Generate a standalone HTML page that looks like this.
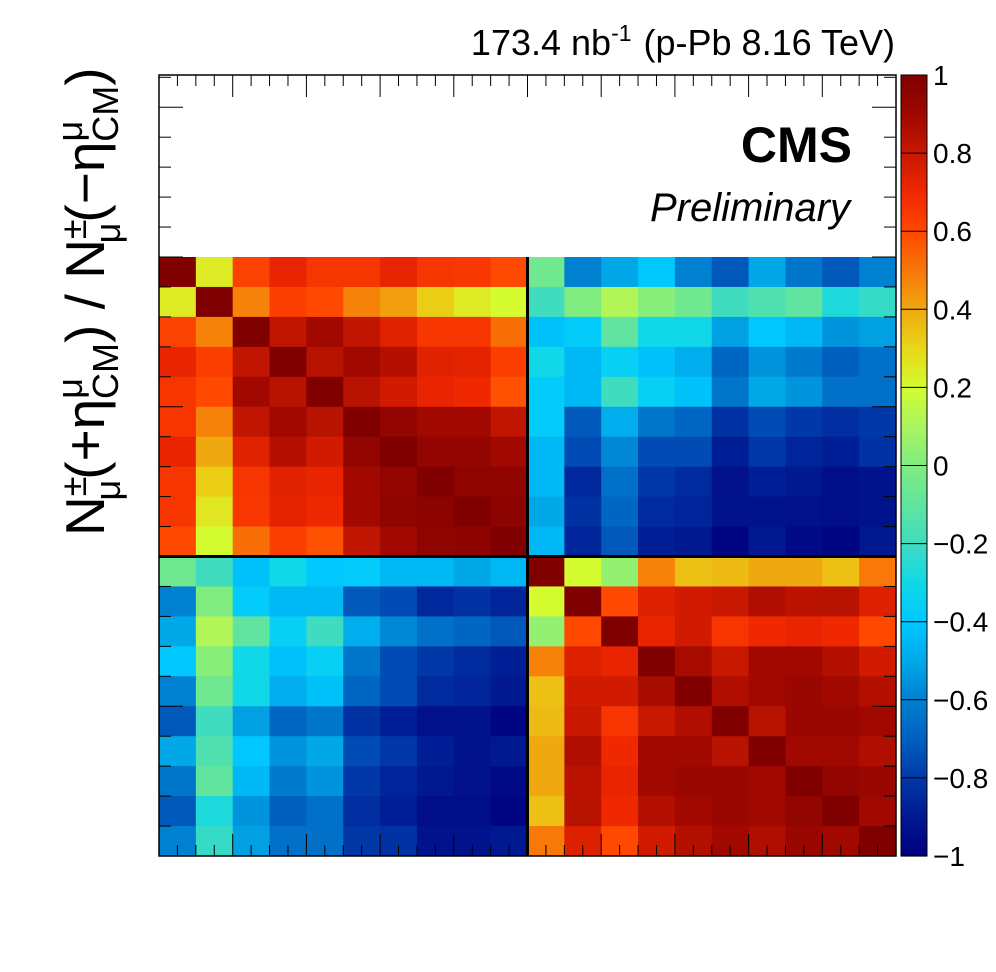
<!DOCTYPE html>
<html><head><meta charset="utf-8"><style>
html,body{margin:0;padding:0;background:#fff;}
svg{display:block;font-family:"Liberation Sans",sans-serif;}
</style></head><body>
<svg id="chart" width="996" height="972" viewBox="0 0 996 972" xmlns="http://www.w3.org/2000/svg">
<rect width="996" height="972" fill="#fff"/>
<g id="cells"></g>
<g id="frame"></g>
<g id="cbar"></g>
<text x="895" y="55" font-size="36" text-anchor="end">173.4 nb<tspan font-size="23" dy="-14">-1</tspan><tspan dy="14" dx="12">(p-Pb 8.16 TeV)</tspan></text>
<text x="852" y="162" font-size="50" font-weight="bold" text-anchor="end">CMS</text>
<text x="850" y="221" font-size="40" font-style="italic" text-anchor="end">Preliminary</text>
<text transform="translate(104,536) rotate(-90)" font-size="55">N<tspan font-size="36" dy="-18">±</tspan><tspan font-size="36" dx="-24" dy="34">μ</tspan><tspan dy="-16">(+η</tspan><tspan font-size="36" dy="-22">μ</tspan><tspan font-size="36" dx="-21" dy="36">CM</tspan><tspan dy="-14">) / N</tspan><tspan font-size="36" dy="-18">±</tspan><tspan font-size="36" dx="-24" dy="34">μ</tspan><tspan dy="-16">(−η</tspan><tspan font-size="36" dy="-22">μ</tspan><tspan font-size="36" dx="-21" dy="36">CM</tspan><tspan dy="-14">)</tspan></text>
</svg>
<script>
const nBins = 20;
const row0  = [1,0.25,0.62,0.72,0.66,0.66,0.72,0.66,0.65,0.6, -0.05,-0.6,-0.5,-0.4,-0.6,-0.72,-0.5,-0.63,-0.72,-0.6];
const row1  = [0.25,1,0.48,0.63,0.6,0.48,0.42,0.32,0.25,0.2, -0.2,0.0,0.12,0.02,-0.05,-0.2,-0.15,-0.1,-0.27,-0.22];
const row2  = [0.62,0.48,1,0.82,0.9,0.82,0.74,0.66,0.66,0.52, -0.42,-0.38,-0.1,-0.3,-0.3,-0.52,-0.4,-0.45,-0.55,-0.52];
const row3  = [0.72,0.63,0.82,1,0.84,0.9,0.85,0.74,0.73,0.63, -0.3,-0.45,-0.35,-0.42,-0.48,-0.68,-0.55,-0.62,-0.7,-0.65];
const row4  = [0.66,0.6,0.9,0.84,1,0.84,0.78,0.72,0.7,0.58, -0.38,-0.45,-0.2,-0.35,-0.42,-0.63,-0.5,-0.55,-0.65,-0.65];
const row5  = [0.66,0.48,0.82,0.9,0.84,1,0.94,0.9,0.9,0.82, -0.38,-0.72,-0.48,-0.63,-0.68,-0.82,-0.75,-0.8,-0.83,-0.8];
const row6  = [0.72,0.4,0.74,0.85,0.78,0.94,1,0.94,0.94,0.9, -0.45,-0.75,-0.58,-0.75,-0.75,-0.88,-0.8,-0.86,-0.88,-0.82];
const row7  = [0.66,0.32,0.66,0.74,0.72,0.9,0.94,1,0.95,0.95, -0.45,-0.85,-0.65,-0.8,-0.84,-0.93,-0.88,-0.9,-0.94,-0.92];
const row8  = [0.66,0.26,0.65,0.73,0.7,0.9,0.95,0.96,1,0.96, -0.5,-0.82,-0.68,-0.84,-0.86,-0.92,-0.92,-0.93,-0.94,-0.92];
const row9  = [0.6,0.2,0.52,0.63,0.58,0.82,0.9,0.95,0.96,1, -0.45,-0.86,-0.72,-0.88,-0.9,-0.98,-0.9,-0.96,-0.98,-0.9];
const row10 = [-0.05,-0.2,-0.42,-0.3,-0.4,-0.38,-0.45,-0.45,-0.5,-0.45, 1,0.2,0.05,0.48,0.35,0.36,0.4,0.4,0.35,0.5];
const row11 = [-0.6,0.0,-0.38,-0.45,-0.45,-0.72,-0.75,-0.85,-0.82,-0.86, 0.2,1,0.6,0.75,0.78,0.8,0.86,0.83,0.84,0.75];
const row12 = [-0.5,0.12,-0.1,-0.35,-0.2,-0.48,-0.58,-0.65,-0.68,-0.72, 0.05,0.6,1,0.72,0.78,0.66,0.7,0.72,0.7,0.6];
const row13 = [-0.4,0.02,-0.3,-0.42,-0.35,-0.63,-0.75,-0.8,-0.84,-0.88, 0.48,0.75,0.72,1,0.88,0.8,0.9,0.9,0.85,0.78];
const row14 = [-0.6,-0.05,-0.3,-0.48,-0.42,-0.68,-0.75,-0.84,-0.86,-0.9, 0.35,0.78,0.78,0.88,1,0.86,0.9,0.92,0.9,0.85];
const row15 = [-0.72,-0.2,-0.52,-0.68,-0.63,-0.82,-0.88,-0.93,-0.92,-0.98, 0.36,0.8,0.66,0.8,0.86,1,0.84,0.92,0.92,0.9];
const row16 = [-0.5,-0.15,-0.4,-0.55,-0.5,-0.75,-0.8,-0.88,-0.92,-0.9, 0.4,0.86,0.7,0.9,0.9,0.84,1,0.9,0.9,0.86];
const row17 = [-0.63,-0.1,-0.45,-0.62,-0.55,-0.8,-0.86,-0.9,-0.93,-0.96, 0.4,0.83,0.72,0.9,0.92,0.92,0.9,1,0.94,0.92];
const row18 = [-0.72,-0.27,-0.55,-0.7,-0.65,-0.83,-0.88,-0.94,-0.94,-0.98, 0.35,0.84,0.7,0.85,0.9,0.92,0.9,0.94,1,0.9];
const row19 = [-0.6,-0.22,-0.52,-0.65,-0.65,-0.8,-0.82,-0.92,-0.92,-0.9, 0.5,0.75,0.6,0.78,0.85,0.9,0.86,0.92,0.9,1];
const matrix = [row0,row1,row2,row3,row4,row5,row6,row7,row8,row9,row10,row11,row12,row13,row14,row15,row16,row17,row18,row19];
const cbarTicks = [-1,-0.8,-0.6,-0.4,-0.2,0,0.2,0.4,0.6,0.8,1];
const cbarLabels = ["\u22121","\u22120.8","\u22120.6","\u22120.4","\u22120.2","0","0.2","0.4","0.6","0.8","1"];

const NS = "http://www.w3.org/2000/svg";
const X0 = 159, X1 = 896, YT = 75, YB = 856;
const ROWH = (856 - 257) / nBins;
const xScale = i => X0 + (X1 - X0) * i / nBins;
const yScale = j => YB - ROWH * j;
const stops = [[-1,[0,0,128]],[-0.9,[0,24,144]],[-0.8,[0,56,168]],[-0.7,[0,96,192]],[-0.6,[0,128,208]],[-0.5,[0,168,232]],[-0.4,[0,200,255]],[-0.3,[16,216,232]],[-0.2,[64,220,192]],[-0.1,[96,228,160]],[0,[128,236,128]],[0.1,[168,244,96]],[0.2,[212,252,48]],[0.3,[232,216,24]],[0.4,[240,168,16]],[0.5,[248,120,8]],[0.6,[255,72,0]],[0.7,[240,40,0]],[0.8,[200,24,0]],[0.9,[160,8,0]],[1,[128,0,0]]];
function color(v){
  v = Math.max(-1, Math.min(1, v));
  for (let k = 0; k < stops.length - 1; k++) {
    const [a, ca] = stops[k], [b, cb] = stops[k+1];
    if (v <= b) { const t = (v - a) / (b - a);
      return "rgb(" + ca.map((c,i) => Math.round(c + (cb[i]-c)*t)).join(",") + ")"; }
  }
  return "rgb(128,0,0)";
}
function mk(tag, attrs, parent){ const e = document.createElementNS(NS, tag); for (const k in attrs) e.setAttribute(k, attrs[k]); parent.appendChild(e); return e; }

const cells = document.getElementById("cells");
matrix.forEach((row, r) => {
  row.forEach((v, c) => {
    const jBottom = nBins - 1 - r;
    const x = xScale(c), y = yScale(jBottom + 1);
    const el = mk("rect", {x: x, y: y, width: xScale(c+1) - x + 0.5, height: yScale(jBottom) - y + 0.5, fill: color(v)}, cells);
    
    
  });
});

const frame = document.getElementById("frame");
const sepV = mk("line", {x1: xScale(10), x2: xScale(10), y1: yScale(20), y2: YB, stroke: "#000", "stroke-width": 3}, frame);


const sepH = mk("line", {x1: X0, x2: X1, y1: yScale(10), y2: yScale(10), stroke: "#000", "stroke-width": 3}, frame);


const border = mk("rect", {x: X0, y: YT, width: X1 - X0, height: YB - YT, fill: "none", stroke: "#000", "stroke-width": 1.5}, frame);


for (let i = 0; i <= 40; i++) {
  const x = X0 + (X1 - X0) * i / 40;
  const len = (i % 4 === 0) ? 22 : 11;
  const t1 = mk("line", {x1: x, x2: x, y1: YT, y2: YT + len, stroke: "#000", "stroke-width": 1}, frame);
  
  
  const t2 = mk("line", {x1: x, x2: x, y1: YB, y2: YB - len, stroke: "#000", "stroke-width": 1}, frame);
  
  
}
for (let j = 0; j <= 26; j++) {
  const y = yScale(j);
  if (y < YT + 2) continue;
  const len = (j % 5 === 0) ? 24 : 12;
  const t1 = mk("line", {x1: X0, x2: X0 + len, y1: y, y2: y, stroke: "#000", "stroke-width": 1}, frame);
  
  
  const t2 = mk("line", {x1: X1, x2: X1 - len, y1: y, y2: y, stroke: "#000", "stroke-width": 1}, frame);
  
  
}

const cb = document.getElementById("cbar");
const CX0 = 901, CX1 = 927;
const cScale = v => YB - (YB - YT) * (v + 1) / 2;
for (let k = 0; k < 200; k++) {
  const v0 = -1 + 2 * k / 200, v1 = -1 + 2 * (k + 1) / 200;
  const s = mk("rect", {x: CX0, y: cScale(v1), width: CX1 - CX0, height: cScale(v0) - cScale(v1) + 0.6, fill: color((v0 + v1) / 2)}, cb);
  
  
}
const cbb = mk("rect", {x: CX0, y: YT, width: CX1 - CX0, height: YB - YT, fill: "none", stroke: "#000", "stroke-width": 1}, cb);


cbarTicks.forEach((v, k) => {
  const y = cScale(v);
  const t = mk("line", {x1: CX1, x2: CX0, y1: y, y2: y, stroke: "#000", "stroke-width": 1}, cb);
  
  
  const lab = mk("text", {x: 933, y: y + 10, "font-size": 28}, cb);
  lab.textContent = cbarLabels[k];
  
  
});
</script>
</body></html>
